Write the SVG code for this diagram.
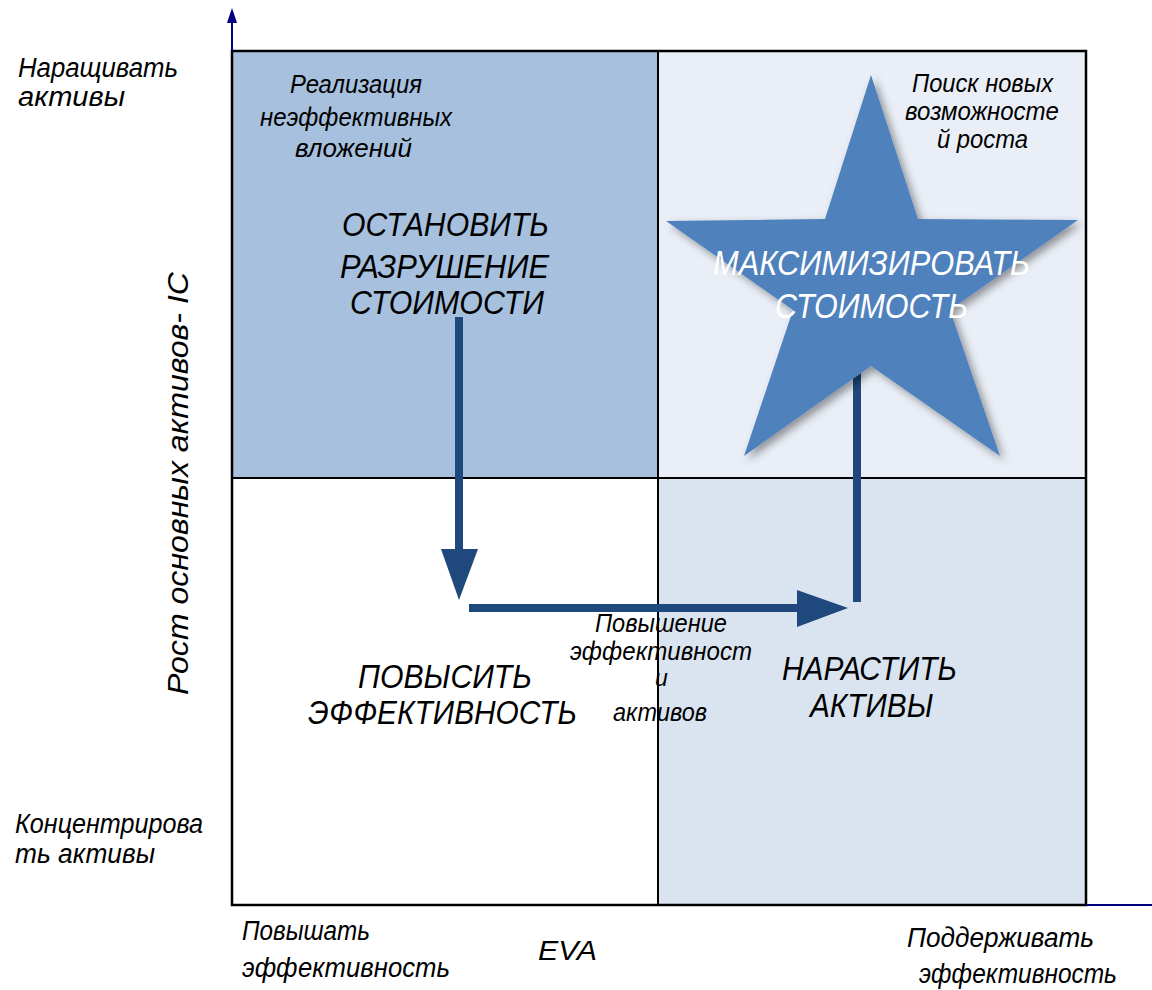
<svg xmlns="http://www.w3.org/2000/svg" width="1152" height="990" viewBox="0 0 1152 990">
<style>
text{font-family:"Liberation Sans",Arial,sans-serif;font-style:italic;fill:#000}
.lab{font-size:27px}
.sm{font-size:25px}
.big{font-size:34px}
.star{font-size:35px;fill:#fff}
.q{stroke:#000;stroke-width:2}
.axis{stroke:#000080;stroke-width:2;fill:none}
.conn{stroke:#1f497d;stroke-width:8;fill:none}
</style>
<defs>
<filter id="sh" x="-10%" y="-10%" width="130%" height="130%">
<feDropShadow dx="4" dy="4" stdDeviation="4" flood-color="#000" flood-opacity="0.4"/>
</filter>
</defs>
<g id="quadrants">
<rect x="232" y="51" width="426" height="427" fill="#a7c0de" class="q"/>
<rect x="658" y="51" width="428" height="427" fill="#eaeff7" class="q"/>
<rect x="232" y="478" width="426" height="427" fill="#ffffff" class="q"/>
<rect x="658" y="478" width="428" height="427" fill="#dae4f0" class="q"/>
<rect x="232" y="51" width="854" height="854" fill="none" stroke="#000" stroke-width="2.5"/>
</g>
<g id="axes">
<line x1="232" y1="51" x2="232" y2="20" class="axis"/>
<path d="M232,8 L237,23 L227,23 z" fill="#000080"/>
<line x1="1086" y1="905" x2="1152" y2="905" class="axis"/>
</g>
<g id="connectors">
<line x1="459" y1="317" x2="459" y2="552" class="conn"/>
<path d="M441,549 L478,549 L459,600 z" fill="#1f497d"/>
<line x1="469" y1="608" x2="800" y2="608" class="conn"/>
<path d="M797,590 L848,608 L797,627 z" fill="#1f497d"/>
<line x1="857" y1="602" x2="857" y2="368" class="conn"/>
</g>
<g id="star">
<polygon points="871,75 918,219 1078,220 950,310 1000,456 871,366 744,456 793,310 666,221 825,219" fill="#4f81bd" filter="url(#sh)"/>
<text class="star" x="713" y="275" textLength="317" lengthAdjust="spacingAndGlyphs">МАКСИМИЗИРОВАТЬ</text>
<text class="star" x="775" y="318" textLength="193" lengthAdjust="spacingAndGlyphs">СТОИМОСТЬ</text>
</g>
<g id="q-top-left">
<text class="sm" x="290" y="93" textLength="132" lengthAdjust="spacingAndGlyphs">Реализация</text>
<text class="sm" x="260" y="126" textLength="192" lengthAdjust="spacingAndGlyphs">неэффективных</text>
<text class="sm" x="295" y="157" textLength="117" lengthAdjust="spacingAndGlyphs">вложений</text>
<text class="big" x="342" y="236" textLength="207" lengthAdjust="spacingAndGlyphs">ОСТАНОВИТЬ</text>
<text class="big" x="340" y="278" textLength="209" lengthAdjust="spacingAndGlyphs">РАЗРУШЕНИЕ</text>
<text class="big" x="350" y="314" textLength="194" lengthAdjust="spacingAndGlyphs">СТОИМОСТИ</text>
</g>
<g id="q-top-right">
<text class="sm" x="912" y="92" textLength="141" lengthAdjust="spacingAndGlyphs">Поиск новых</text>
<text class="sm" x="905" y="120" textLength="154" lengthAdjust="spacingAndGlyphs">возможносте</text>
<text class="sm" x="937" y="148" textLength="91" lengthAdjust="spacingAndGlyphs">й роста</text>
</g>
<g id="q-bottom-left">
<text class="big" x="358" y="688" textLength="174" lengthAdjust="spacingAndGlyphs">ПОВЫСИТЬ</text>
<text class="big" x="308" y="724" textLength="269" lengthAdjust="spacingAndGlyphs">ЭФФЕКТИВНОСТЬ</text>
</g>
<g id="q-bottom-right">
<text class="big" x="782" y="680" textLength="175" lengthAdjust="spacingAndGlyphs">НАРАСТИТЬ</text>
<text class="big" x="810" y="717" textLength="123" lengthAdjust="spacingAndGlyphs">АКТИВЫ</text>
</g>
<g id="mid-label">
<text class="sm" x="595" y="632" textLength="132" lengthAdjust="spacingAndGlyphs">Повышение</text>
<text class="sm" x="570" y="660" textLength="182" lengthAdjust="spacingAndGlyphs">эффективност</text>
<text class="sm" x="655" y="686" style="font-size:23px">и</text>
<text class="sm" x="613" y="721" textLength="94" lengthAdjust="spacingAndGlyphs">активов</text>
</g>
<g id="axis-labels">
<text class="lab" x="18" y="77" textLength="160" lengthAdjust="spacingAndGlyphs">Наращивать</text>
<text class="lab" x="18" y="106" textLength="107" lengthAdjust="spacingAndGlyphs">активы</text>
<text class="lab" x="15" y="833" textLength="188" lengthAdjust="spacingAndGlyphs">Концентрирова</text>
<text class="lab" x="15" y="863" textLength="140" lengthAdjust="spacingAndGlyphs">ть активы</text>
<text class="lab" x="242" y="940" textLength="128" lengthAdjust="spacingAndGlyphs">Повышать</text>
<text class="lab" x="242" y="977" textLength="208" lengthAdjust="spacingAndGlyphs">эффективность</text>
<text class="lab" x="538" y="960" textLength="59" lengthAdjust="spacingAndGlyphs">EVA</text>
<text class="lab" x="907" y="947" textLength="187" lengthAdjust="spacingAndGlyphs">Поддерживать</text>
<text class="lab" x="919" y="983" textLength="198" lengthAdjust="spacingAndGlyphs">эффективность</text>
<text class="lab" transform="translate(188,695) rotate(-90)" x="0" y="0" textLength="423" lengthAdjust="spacingAndGlyphs" style="font-size:29px">Рост основных активов- IC</text>
</g>
</svg>
